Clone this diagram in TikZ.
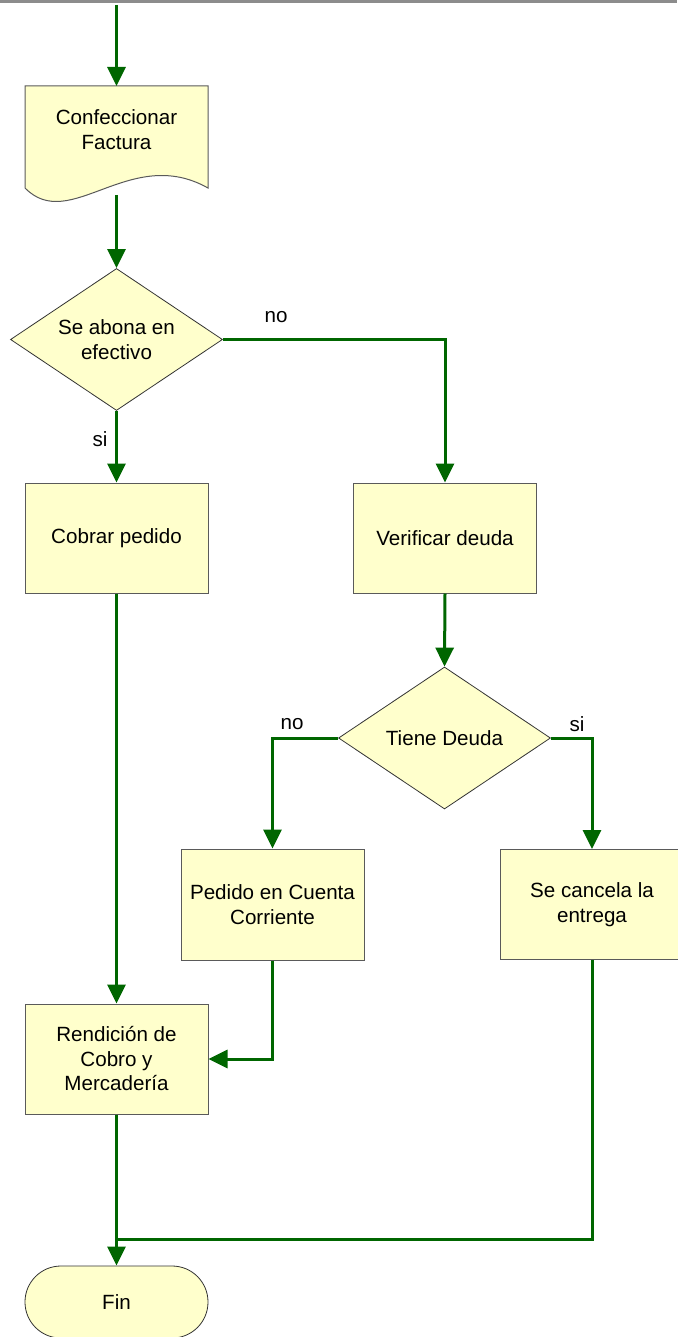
\documentclass[tikz,border=0pt]{standalone}
\usepackage{fontspec}
\setmainfont{Liberation Sans}
\usetikzlibrary{arrows.meta,shapes.geometric}
\definecolor{flowgreen}{RGB}{0,102,0}
\definecolor{boxfill}{RGB}{255,255,204}
\definecolor{boxline}{RGB}{90,90,90}
\definecolor{topgray}{RGB}{140,140,140}
\tikzset{
  every node/.style={font=\fontsize{20.6}{24.5}\selectfont},
  procbox/.style={draw=boxline, line width=1pt, fill=boxfill, minimum width=183pt, minimum height=110pt, inner sep=0pt, align=center},
  decision/.style={diamond, draw=black!80, line width=0.8pt, fill=boxfill, minimum width=212pt, minimum height=142pt, aspect=1.5, inner sep=0pt, align=center},
  termbox/.style={draw=black!80, line width=0.8pt, fill=boxfill, rounded corners=35.9pt, minimum width=183pt, minimum height=72pt, inner sep=0pt},
  flow/.style={draw=flowgreen, line width=3pt},
  arr/.style={flow, -{Triangle[length=19pt,width=18pt]}},
  lbl/.style={inner sep=0pt}
}
\begin{document}
\begin{tikzpicture}[x=1pt,y=-1pt]
\useasboundingbox (0,0) rectangle (677,1337);
\draw[topgray, line width=2.5pt] (0,1.3) -- (677,1.3);

% document shape
\draw[boxline, line width=1pt, fill=boxfill] (25,86) -- (208,86) -- (208,188)
  .. controls (130,144) and (70,234) .. (25,188) -- cycle;
\node[align=center, inner sep=0pt] (conf) at (116.5,129.5) {Confeccionar\\Factura};
\coordinate (start) at (116.5,5);
\coordinate (confT) at (116.5,86);
\coordinate (confB) at (116.5,195);

\node[decision] (d1) at (116.5,339.5) {Se abona en\\efectivo};
\node[procbox] (cob) at (116.5,538) {\raisebox{-1pt}{Cobrar pedido}};
\node[procbox] (ver) at (445,538) {\raisebox{-1pt}{Verificar deuda}};
\node[decision] (d2) at (444.5,738) {Tiene Deuda};
\node[procbox, minimum height=111pt] (ped) at (272.5,904.5) {Pedido en Cuenta\\Corriente};
\node[procbox, minimum width=184pt, minimum height=110pt] (can) at (592,904.5) {Se cancela la\\entrega};
\node[procbox] (ren) at (116.5,1059) {Rendición de\\Cobro y\\Mercadería};
\node[termbox] (fin) at (116.5,1302) {Fin};
\coordinate (merge) at (116.5,1239);

\node[lbl] (l1) at (276,317) {no};
\node[lbl] (l2) at (100,439) {si};
\node[lbl] (l3) at (292,724) {no};
\node[lbl] (l4) at (577,724) {si};

\draw[arr] (start) -- (confT);
\draw[arr] (confB) -- (d1.north);
\draw[arr] (d1.south) -- (cob.north);
\draw[arr] (d1.east) -| (ver.north);
\draw[arr] (ver.south) -- (d2.north);
\draw[arr] (d2.west) -| (ped.north);
\draw[arr] (d2.east) -| (can.north);
\draw[arr] (cob.south) -- (ren.north);
\draw[arr] (ped.south) |- (ren.east);
\draw[arr] (ren.south) -- (fin.north);
\draw[flow] (can.south) |- (merge);
\end{tikzpicture}
\end{document}
